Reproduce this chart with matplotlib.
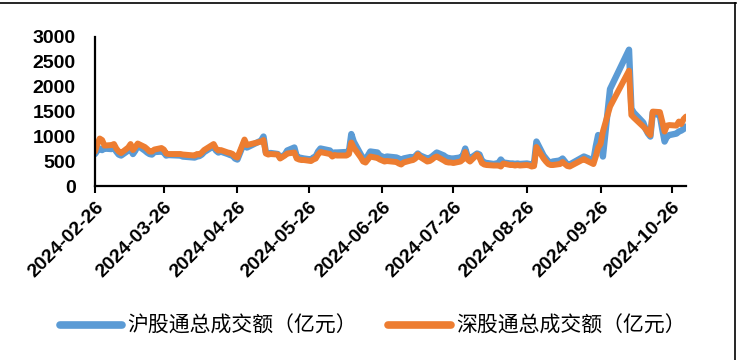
import matplotlib
matplotlib.use("Agg")
import matplotlib.pyplot as plt
from matplotlib.lines import Line2D
import pandas as pd

dates = [
    "2024-02-26", "2024-02-27", "2024-02-28", "2024-02-29", "2024-03-01",
    "2024-03-04", "2024-03-05", "2024-03-06", "2024-03-07", "2024-03-08",
    "2024-03-11", "2024-03-12", "2024-03-13", "2024-03-14", "2024-03-15",
    "2024-03-18", "2024-03-19", "2024-03-20", "2024-03-21", "2024-03-22",
    "2024-03-25", "2024-03-26", "2024-03-27", "2024-03-28",
    "2024-04-02", "2024-04-03", "2024-04-08", "2024-04-09", "2024-04-10",
    "2024-04-11", "2024-04-12", "2024-04-15", "2024-04-16", "2024-04-17",
    "2024-04-18", "2024-04-19", "2024-04-22", "2024-04-23", "2024-04-24",
    "2024-04-25", "2024-04-26", "2024-04-29", "2024-04-30",
    "2024-05-06", "2024-05-07", "2024-05-08", "2024-05-09", "2024-05-10",
    "2024-05-13", "2024-05-14", "2024-05-16", "2024-05-17", "2024-05-20",
    "2024-05-21", "2024-05-22", "2024-05-23", "2024-05-24", "2024-05-27",
    "2024-05-28", "2024-05-29", "2024-05-30", "2024-05-31",
    "2024-06-03", "2024-06-04", "2024-06-05", "2024-06-06", "2024-06-07",
    "2024-06-11", "2024-06-12", "2024-06-13", "2024-06-14", "2024-06-17",
    "2024-06-18", "2024-06-19", "2024-06-20", "2024-06-21", "2024-06-24",
    "2024-06-25", "2024-06-26", "2024-06-27", "2024-06-28",
    "2024-07-02", "2024-07-03", "2024-07-04", "2024-07-05", "2024-07-08",
    "2024-07-09", "2024-07-10", "2024-07-11", "2024-07-12", "2024-07-15",
    "2024-07-16", "2024-07-17", "2024-07-18", "2024-07-19", "2024-07-22",
    "2024-07-23", "2024-07-24", "2024-07-25", "2024-07-26", "2024-07-29",
    "2024-07-30", "2024-07-31",
    "2024-08-01", "2024-08-02", "2024-08-05", "2024-08-06", "2024-08-07",
    "2024-08-08", "2024-08-09", "2024-08-12", "2024-08-13", "2024-08-14",
    "2024-08-15", "2024-08-16", "2024-08-19", "2024-08-20", "2024-08-21",
    "2024-08-22", "2024-08-23", "2024-08-26", "2024-08-27", "2024-08-28",
    "2024-08-29", "2024-08-30",
    "2024-09-02", "2024-09-03", "2024-09-04", "2024-09-05", "2024-09-06",
    "2024-09-09", "2024-09-10", "2024-09-11", "2024-09-12", "2024-09-13",
    "2024-09-19", "2024-09-20", "2024-09-23", "2024-09-24", "2024-09-25",
    "2024-09-26", "2024-09-27", "2024-09-30",
    "2024-10-08", "2024-10-09", "2024-10-10", "2024-10-14", "2024-10-15",
    "2024-10-16", "2024-10-17", "2024-10-18", "2024-10-21", "2024-10-22",
    "2024-10-23", "2024-10-24", "2024-10-25", "2024-10-28", "2024-10-29",
    "2024-10-30", "2024-10-31", "2024-11-01",
]

# 沪股通总成交额（亿元）
sh_turnover = [
    650, 720, 760, 730, 760,
    750, 770, 700, 640, 620,
    720, 760, 650, 720, 820,
    720, 680, 650, 640, 690,
    700, 680, 620, 630,
    620, 600, 580, 600, 610,
    640, 690, 780, 800, 720,
    680, 700, 650, 630, 620,
    560, 540, 900, 780,
    920, 1000, 680, 660, 670,
    650, 580, 640, 720, 780,
    600, 580, 570, 560, 540,
    580, 600, 700, 760,
    730, 720, 650, 680, 680,
    690, 700, 1050, 900, 640,
    560, 540, 620, 700, 680,
    620, 600, 580, 600,
    580, 560, 520, 560, 590,
    580, 610, 660, 620, 560,
    570, 600, 640, 680, 620,
    580, 570, 560, 560, 580,
    620, 760,
    600, 560, 660, 640, 520,
    480, 470, 450, 460, 470,
    540, 480, 460, 460, 450,
    460, 450, 460, 450, 440,
    470, 900,
    620, 560, 500, 480, 500,
    520, 560, 500, 440, 440,
    600, 580, 520, 800, 1030,
    1000, 600, 1950,
    2740, 1560, 1480, 1280, 1150,
    1060, 1000, 1480, 1420, 1150,
    900, 1000, 1030, 1060, 1100,
    1120, 1150, 1200,
]

# 深股通总成交额（亿元）
sz_turnover = [
    700, 850, 960, 930, 820,
    830, 850, 760, 700, 670,
    780, 850, 730, 790, 860,
    790, 750, 700, 700, 740,
    770, 740, 660, 650,
    650, 640, 620, 650, 640,
    680, 730, 820, 850, 760,
    720, 730, 680, 670, 650,
    600, 580, 940, 830,
    900, 930, 660, 640, 650,
    640, 560, 620, 660, 680,
    560, 540, 530, 530, 510,
    540, 560, 640, 690,
    660, 650, 600, 630, 620,
    620, 650, 880, 780, 580,
    500, 480, 540, 600, 570,
    540, 520, 500, 510,
    490, 460, 440, 480, 520,
    530, 560, 640, 590, 500,
    510, 540, 580, 600, 520,
    490, 480, 480, 470, 500,
    540, 690,
    540, 500, 640, 580, 470,
    440, 430, 420, 420, 420,
    400, 460, 430, 430, 420,
    430, 420, 430, 420, 400,
    410, 790,
    560, 500, 450, 430, 430,
    450, 490, 450, 410, 400,
    550, 520, 450, 600, 780,
    850, 1100, 1600,
    2320, 1430, 1380, 1200, 1150,
    1080, 1030, 1500, 1490, 1300,
    1100, 1220, 1230, 1220, 1300,
    1250, 1350, 1400,
]

labels = ["沪股通总成交额（亿元）", "深股通总成交额（亿元）"]
tick_dates = ["2024-02-26", "2024-03-26", "2024-04-26", "2024-05-26",
              "2024-06-26", "2024-07-26", "2024-08-26", "2024-09-26",
              "2024-10-26"]
y_ticks = [0, 500, 1000, 1500, 2000, 2500, 3000]

x = pd.to_datetime(dates)
xt = pd.to_datetime(tick_dates)

fig = plt.figure(figsize=(7.38, 3.60), dpi=100)
ax = fig.add_axes([0.1287, 0.482, 0.8008, 0.416])

ax.plot(x, sh_turnover, color="#5B9BD5", lw=4.6, solid_capstyle="round",
        solid_joinstyle="round", label=labels[0])
ax.plot(x, sz_turnover, color="#ED7D31", lw=4.3, solid_capstyle="round",
        solid_joinstyle="round", label=labels[1])

ax.set_xlim(x[0], x[-1])
ax.set_ylim(0, 3000)
ax.set_yticks(y_ticks)
ax.set_xticks(xt)
ax.set_xticklabels([d for d in tick_dates], rotation=45, ha="right",
                   rotation_mode="anchor")
for lab in ax.get_xticklabels() + ax.get_yticklabels():
    lab.set_fontfamily("Liberation Sans")
    lab.set_fontweight("bold")
    lab.set_fontsize(14)

for s in ["top", "right"]:
    ax.spines[s].set_visible(False)
for s in ["left", "bottom"]:
    ax.spines[s].set_linewidth(1.6)
    ax.spines[s].set_color("black")
ax.tick_params(axis="y", length=0, pad=14)
ax.tick_params(axis="x", length=5, width=1.5, direction="out", pad=4)

leg = fig.legend(loc="center", bbox_to_anchor=(0.505, 0.094), ncol=2,
                 frameon=False, handlelength=3.0, handletextpad=0.25,
                 columnspacing=1.5,
                 prop={"family": ["Noto Sans CJK SC", "DejaVu Sans"],
                       "size": 15})
for h in leg.get_lines():
    h.set_linewidth(5.5)
    h.set_solid_capstyle("round")

fig.add_artist(Line2D([0, 0.997], [0.991, 0.991], transform=fig.transFigure,
                      color="black", lw=1.2))
fig.add_artist(Line2D([0.996, 0.996], [0, 0.991], transform=fig.transFigure,
                      color="black", lw=1.2))

fig.savefig("out.png", dpi=100)
